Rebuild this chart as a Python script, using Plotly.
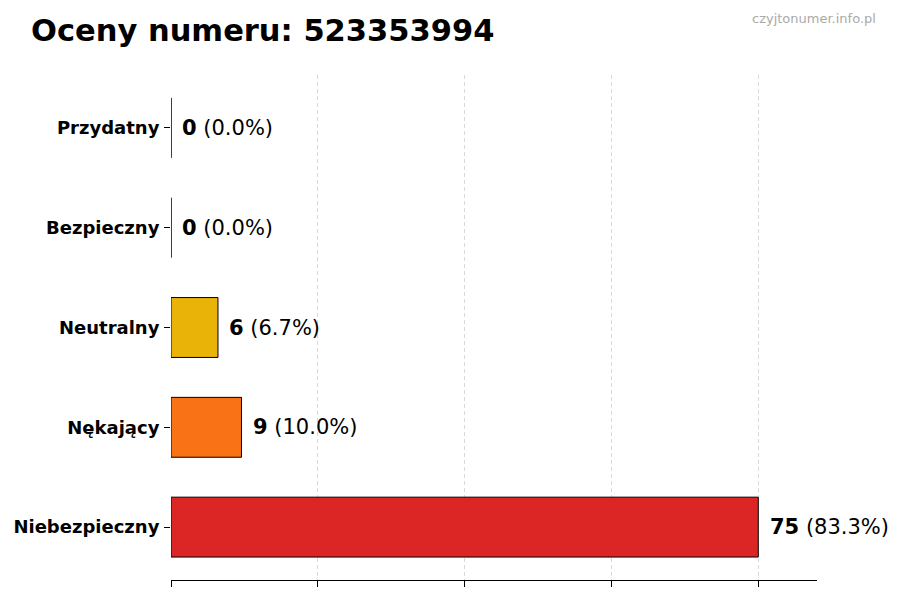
import plotly.graph_objects as go

# Rating categories, listed bottom to top as they appear on the chart
categories = ["Niebezpieczny", "Nękający", "Neutralny", "Bezpieczny", "Przydatny"]
counts = [75, 9, 6, 0, 0]
colors = ["#DC2626", "#F97316", "#EAB308", "#22C55E", "#3B82F6"]

phone_number = "523353994"
total = sum(counts)
max_count = max(counts)
tick_values = [max_count * i / 4 for i in range(5)]

fig = go.Figure()

fig.add_trace(
    go.Bar(
        x=counts,
        y=categories,
        orientation="h",
        width=0.6,
        marker=dict(color=colors, line=dict(color="black", width=1)),
        hoverinfo="x+y",
    )
)

# Value labels to the right of each bar
for cat, cnt in zip(categories, counts):
    pct = cnt / total * 100 if total else 0
    fig.add_annotation(
        x=cnt + max_count * 0.016,
        y=cat,
        text=f"<b>{cnt}</b> ({pct:.1f}%)",
        showarrow=False,
        xanchor="left",
        yanchor="middle",
        font=dict(size=21, color="black"),
    )

# watermark (paper coords are relative to the plot area)
fig.add_annotation(
    x=1.095,
    y=1.13,
    xref="paper",
    yref="paper",
    xanchor="right",
    yanchor="top",
    text="czyjtonumer.info.pl",
    showarrow=False,
    font=dict(size=13, color="#aaaaaa"),
)

fig.update_layout(
    width=900,
    height=600,
    title=dict(
        text=f"<b>Oceny numeru: {phone_number}</b>",
        x=0.0256,
        xanchor="left",
        y=0.963,
        yanchor="middle",
        font=dict(size=30.5, color="black"),
    ),
    font=dict(family="DejaVu Sans", color="black"),
    plot_bgcolor="white",
    paper_bgcolor="white",
    showlegend=False,
    margin=dict(l=163, r=91, t=67, b=28, autoexpand=False),
    xaxis=dict(
        range=[0, max_count * 1.1],
        tickvals=tick_values,
        showticklabels=False,
        showgrid=True,
        gridcolor="#d9d9d9",
        griddash="4px,3px",
        gridwidth=1,
        zeroline=False,
        showline=True,
        linecolor="black",
        linewidth=1.2,
        ticks="outside",
        ticklen=6,
        tickcolor="black",
        automargin=False,
    ),
    yaxis=dict(
        range=[-0.53, 4.53],
        showgrid=False,
        zeroline=False,
        showline=False,
        ticks="outside",
        ticklen=6,
        tickcolor="black",
        ticklabelstandoff=1,
        tickfont=dict(size=18, color="black", family="DejaVu Sans"),
        tickprefix="<b>",
        ticksuffix="</b>",
        automargin=False,
    ),
)

fig.write_html("out.html")
